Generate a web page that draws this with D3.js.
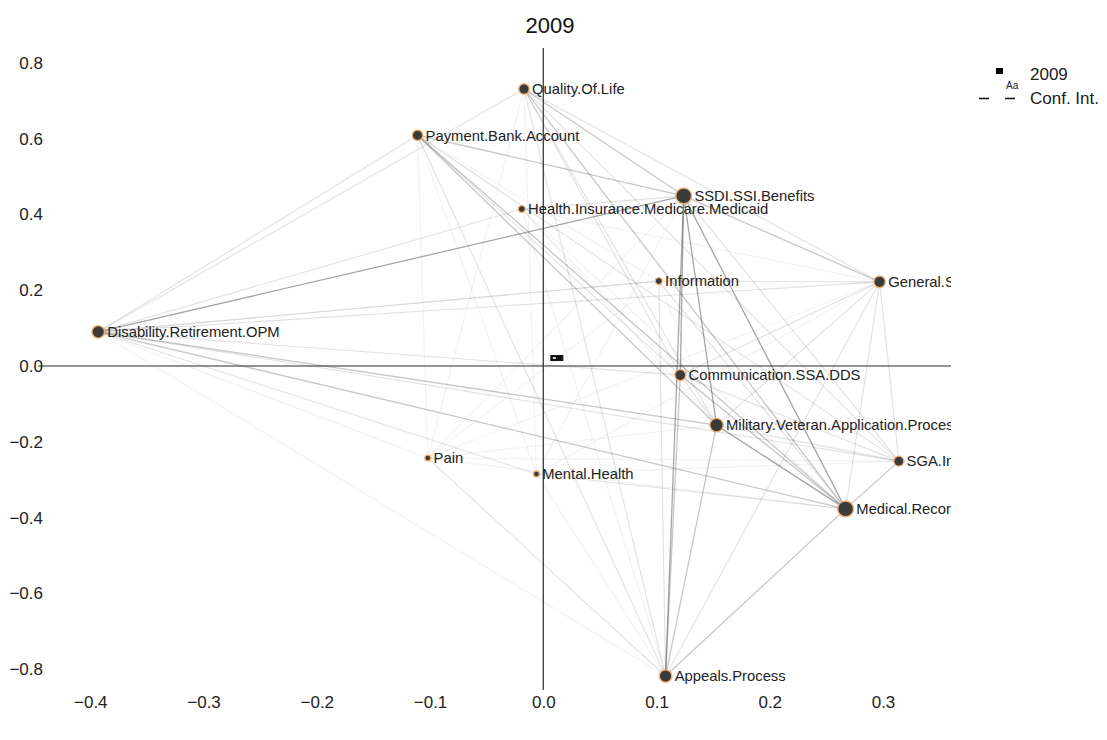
<!DOCTYPE html>
<html>
<head>
<meta charset="utf-8">
<script src="https://cdn.jsdelivr.net/npm/d3@7/dist/d3.min.js"></script>
<style>
  html, body { margin: 0; padding: 0; background: #fff; }
  svg { display: block; font-family: "Liberation Sans", Arial, sans-serif; }
</style>
</head>
<body>
<svg id="chart" width="1107" height="740"></svg>
<script>
// Topic map for 2009: node positions (dim 1, dim 2) and weights
const nodeNames = [
  "Quality.Of.Life", "Payment.Bank.Account", "SSDI.SSI.Benefits",
  "Health.Insurance.Medicare.Medicaid", "Information", "General.SSA.Process",
  "Disability.Retirement.OPM", "Communication.SSA.DDS",
  "Military.Veteran.Application.Process", "Pain", "Mental.Health",
  "SGA.Income", "Medical.Records", "Appeals.Process"
];
const nodeX = [-0.017, -0.111, 0.124, -0.019, 0.102, 0.297, -0.393, 0.121, 0.153, -0.102, -0.006, 0.314, 0.267, 0.108];
const nodeY = [0.731, 0.609, 0.449, 0.414, 0.224, 0.222, 0.090, -0.024, -0.156, -0.243, -0.285, -0.251, -0.377, -0.818];
const nodeWeight = [4, 4, 10, 1.5, 1.5, 5, 6, 4.5, 7, 1, 1, 3.5, 10, 6];

// Co-occurrence links: [source, target, strength 1..4]
const links = [
  // strong
  [2, 7, 4], [2, 13, 4], [2, 12, 4], [2, 8, 4], [8, 12, 4], [6, 2, 4],
  // medium
  [2, 5, 3], [0, 2, 3], [1, 2, 3], [6, 12, 3], [6, 8, 3], [13, 12, 3],
  [13, 8, 3], [13, 7, 3], [12, 11, 3], [7, 12, 3], [1, 12, 3], [1, 8, 3],
  [0, 12, 3], [5, 12, 2],
  // light
  [6, 1, 2], [6, 0, 2], [6, 5, 2], [6, 7, 2], [6, 11, 2], [6, 4, 2],
  [1, 7, 2], [1, 11, 2], [0, 8, 2], [0, 7, 2], [0, 5, 2], [0, 11, 2],
  [0, 13, 2], [5, 8, 2], [5, 7, 2], [5, 11, 2], [5, 13, 2], [11, 8, 2],
  [11, 7, 2], [11, 2, 2], [4, 5, 2], [4, 12, 2], [3, 2, 2], [3, 6, 2],
  [1, 13, 2], [7, 8, 2], [4, 13, 2], [10, 12, 2], [9, 13, 2],
  // faint
  [9, 5, 1], [9, 2, 1], [9, 8, 1], [9, 12, 1], [10, 2, 1], [10, 5, 1],
  [10, 13, 1], [10, 1, 1], [3, 12, 1], [3, 8, 1], [3, 13, 1], [4, 9, 1],
  [9, 0, 1], [9, 1, 1], [10, 6, 1], [10, 0, 1], [6, 13, 1], [3, 5, 1],
  [4, 1, 1], [4, 6, 1], [4, 8, 1], [3, 7, 1], [9, 11, 1], [10, 11, 1],
  [6, 9, 1], [6, 10, 1]
];

const xTicks = [-0.4, -0.3, -0.2, -0.1, 0, 0.1, 0.2, 0.3];
const yTicks = [-0.8, -0.6, -0.4, -0.2, 0, 0.2, 0.4, 0.6, 0.8];
const ciMarker = [0.012, 0.021];
const titleText = "2009";
const legendLabels = ["2009", "Conf. Int."];

const svg = d3.select("#chart");
const x = d3.scaleLinear().domain([-0.4, 0.3]).range([90.3, 883]);
const y = d3.scaleLinear().domain([-0.8, 0.8]).range([669.2, 62.8]);
const r = d3.scaleSqrt().domain([0, 10]).range([0, 7.2]);
const alpha = d3.scaleOrdinal().domain([1, 2, 3, 4]).range([0.07, 0.16, 0.3, 0.48]);

const clipId = "plot-clip";
svg.append("defs").append("clipPath").attr("id", clipId)
  .append("rect").attr("x", 30).attr("y", 40).attr("width", 921).attr("height", 660);

// title
svg.append("text").attr("x", 550).attr("y", 33).attr("text-anchor", "middle")
  .attr("font-size", 22).attr("fill", "#111").text(titleText);

// tick labels
const xAxis = d3.axisBottom(x).tickValues(xTicks).tickSize(0).tickFormat(d3.format(".1f"));
svg.append("g").attr("transform", "translate(0,693)").call(xAxis)
  .call(g => g.select(".domain").remove())
  .call(g => g.selectAll("text").attr("font-size", 17).attr("fill", "#222")
    .attr("font-family", "Liberation Sans, Arial, sans-serif"));

const yAxis = d3.axisLeft(y).tickValues(yTicks).tickSize(0).tickFormat(d3.format(".1f"));
svg.append("g").attr("transform", "translate(46,0)").call(yAxis)
  .call(g => g.select(".domain").remove())
  .call(g => g.selectAll("text").attr("font-size", 17).attr("fill", "#222")
    .attr("font-family", "Liberation Sans, Arial, sans-serif"));

const plot = svg.append("g").attr("clip-path", `url(#${clipId})`);

// zero lines
plot.append("line").attr("x1", x(0)).attr("x2", x(0)).attr("y1", 48).attr("y2", 690)
  .attr("stroke", "#2a2a2a").attr("stroke-width", 1.2);
plot.append("line").attr("x1", 38).attr("x2", 951).attr("y1", y(0)).attr("y2", y(0))
  .attr("stroke", "#2a2a2a").attr("stroke-width", 1.2);

// links
plot.append("g").selectAll("line").data(links).join("line")
  .attr("x1", d => x(nodeX[d[0]])).attr("y1", d => y(nodeY[d[0]]))
  .attr("x2", d => x(nodeX[d[1]])).attr("y2", d => y(nodeY[d[1]]))
  .attr("stroke", "#444").attr("stroke-opacity", d => alpha(d[2]))
  .attr("stroke-width", d => d[2] >= 3 ? 1.3 : 1.1);

// small confidence marker near the origin
plot.append("rect")
  .attr("x", x(ciMarker[0]) - 6).attr("y", y(ciMarker[1]) - 2.5)
  .attr("width", 12).attr("height", 5)
  .attr("fill", "#111").attr("stroke", "#111").attr("stroke-width", 1);
plot.append("rect")
  .attr("x", x(ciMarker[0]) - 4).attr("y", y(ciMarker[1]) - 1)
  .attr("width", 3).attr("height", 2).attr("fill", "#ddd");

// nodes
const nodes = nodeNames.map((n, i) => ({ name: n, x: nodeX[i], y: nodeY[i], w: nodeWeight[i] }));
const ng = plot.append("g").selectAll("g").data(nodes).join("g")
  .attr("transform", d => `translate(${x(d.x)},${y(d.y)})`);
ng.append("circle").attr("r", d => r(d.w) + 1.4)
  .attr("fill", "#f2a65e").attr("opacity", 0.85);
ng.append("circle").attr("r", d => r(d.w))
  .attr("fill", "#3b3b3b");
ng.append("text").attr("x", d => r(d.w) + 3.5).attr("dy", "0.36em")
  .attr("font-size", 14.8).attr("fill", "#222").text(d => d.name);

// legend
const lg = svg.append("g");
lg.append("rect").attr("x", 996).attr("y", 68).attr("width", 7).attr("height", 6).attr("fill", "#000");
lg.append("text").attr("x", 1006).attr("y", 89).attr("font-size", 10).attr("fill", "#222").text("Aa");
lg.append("text").attr("x", 1030).attr("y", 80).attr("font-size", 17).attr("fill", "#222").text(legendLabels[0]);
lg.append("line").attr("x1", 979).attr("x2", 1017).attr("y1", 98.5).attr("y2", 98.5)
  .attr("stroke", "#111").attr("stroke-width", 1.4).attr("stroke-dasharray", "10,16");
lg.append("text").attr("x", 1030).attr("y", 104).attr("font-size", 17).attr("fill", "#222").text(legendLabels[1]);
</script>
</body>
</html>
